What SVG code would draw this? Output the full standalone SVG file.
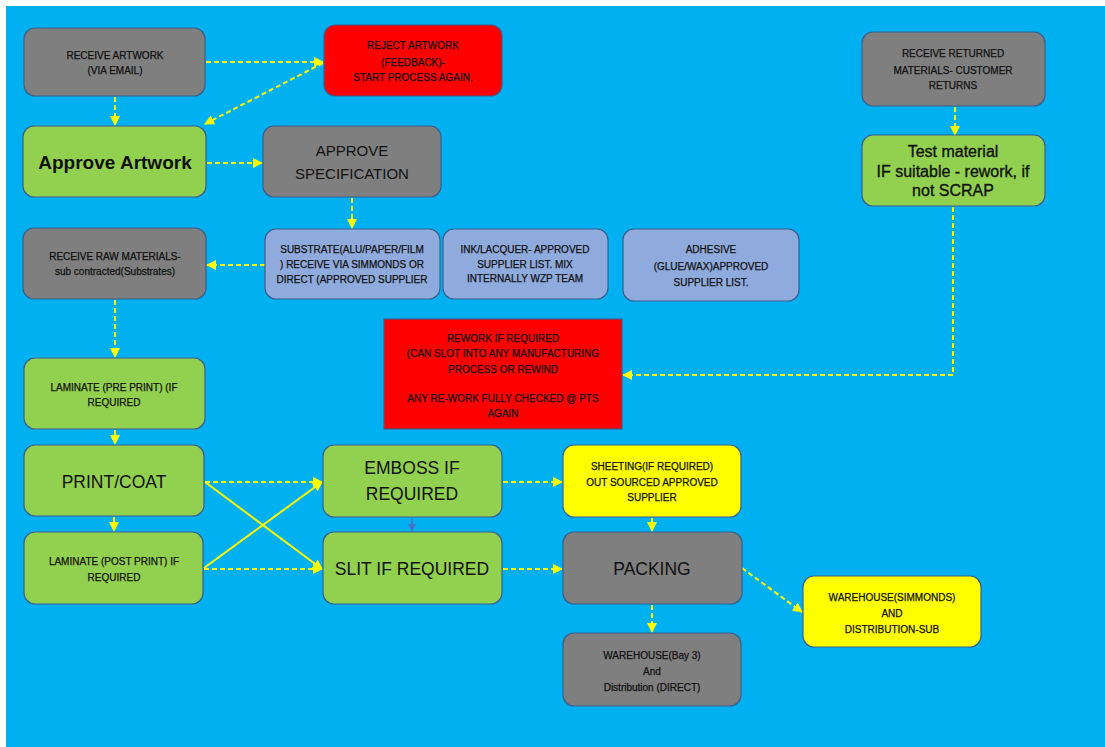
<svg xmlns="http://www.w3.org/2000/svg" width="1105" height="747" viewBox="0 0 1105 747">
<style>
.n{stroke:#3A5F8F;stroke-width:1.2}
.gray{fill:#7F7F7F}.green{fill:#92D050}.red{fill:#FF0000}.yel{fill:#FFFF00}.lb{fill:#8FAADC}
text{font-family:"Liberation Sans",Arial,sans-serif;fill:#111;text-anchor:middle}
.s{font-size:10px;stroke:#111;stroke-width:0.25}
.m{font-size:15px}
.l{font-size:17.5px}
.b{font-size:19px;font-weight:bold}
.t{font-size:16px;stroke:#111;stroke-width:0.35}
.d{fill:none;stroke:#FFFF00;stroke-width:2;stroke-dasharray:5 3}
.sol{fill:none;stroke:#FFFF00;stroke-width:2}
</style>
<defs>
<marker id="ah" viewBox="0 0 10 10" refX="9" refY="5" markerWidth="10" markerHeight="10" markerUnits="userSpaceOnUse" orient="auto">
<path d="M0,0 L10,5 L0,10 z" fill="#FFFF00"/>
</marker>
<marker id="ab" viewBox="0 0 10 10" refX="9" refY="5" markerWidth="8" markerHeight="8" markerUnits="userSpaceOnUse" orient="auto">
<path d="M0,0 L10,5 L0,10 z" fill="#4472C4"/>
</marker>
</defs>
<rect x="0" y="0" width="1105" height="747" fill="#FFFFFF"/>
<rect x="6" y="6" width="1099" height="741" fill="#00B0F0"/>

<g id="connectors">
<path class="d" d="M206,62 L323,62" marker-end="url(#ah)"/>
<path class="d" d="M323,63 L205,124" marker-end="url(#ah)"/>
<path class="d" d="M115,97 L115,125" marker-end="url(#ah)"/>
<path class="d" d="M207,163 L262,163" marker-end="url(#ah)"/>
<path class="d" d="M352,198 L352,228" marker-end="url(#ah)"/>
<path class="d" d="M265,265 L207,265" marker-end="url(#ah)"/>
<path class="d" d="M115,300 L115,357" marker-end="url(#ah)"/>
<path class="d" d="M115,430 L115,444" marker-end="url(#ah)"/>
<path class="d" d="M114,517 L114,531" marker-end="url(#ah)"/>
<path class="d" d="M205,482 L322,482" marker-end="url(#ah)"/>
<path class="sol" d="M205,482 L322,569" marker-end="url(#ah)"/>
<path class="sol" d="M204,568 L322,482" marker-end="url(#ah)"/>
<path class="d" d="M204,569 L322,569" marker-end="url(#ah)"/>
<path d="M412,518 L412,531" fill="none" stroke="#4472C4" stroke-width="1.5" marker-end="url(#ab)"/>
<path class="d" d="M503,482 L562,482" marker-end="url(#ah)"/>
<path class="d" d="M503,569 L562,569" marker-end="url(#ah)"/>
<path class="d" d="M652,518 L652,531" marker-end="url(#ah)"/>
<path class="d" d="M742,568 L802,612" marker-end="url(#ah)"/>
<path class="d" d="M652,605 L652,632" marker-end="url(#ah)"/>
<path class="d" d="M955,107 L955,135" marker-end="url(#ah)"/>
<path class="d" d="M953,207 L953,375 L623,375" marker-end="url(#ah)"/>
</g>

<g id="receive-artwork">
<rect class="n gray" x="24" y="28" width="181" height="68" rx="11"/>
<text class="s" x="115" y="59">RECEIVE ARTWORK</text>
<text class="s" x="115" y="74">(VIA EMAIL)</text>
</g>
<g id="reject-artwork">
<rect class="n red" x="324" y="25" width="178" height="71" rx="11"/>
<text class="s" x="413" y="49">REJECT ARTWORK</text>
<text class="s" x="413" y="65.5">(FEEDBACK)-</text>
<text class="s" x="413" y="81">START PROCESS AGAIN.</text>
</g>
<g id="approve-artwork">
<rect class="n green" x="23" y="126" width="183" height="71" rx="11"/>
<text class="b" x="115" y="169">Approve Artwork</text>
</g>
<g id="approve-specification">
<rect class="n gray" x="263" y="126" width="178" height="71" rx="11"/>
<text class="m" x="352" y="156">APPROVE</text>
<text class="m" x="352" y="179">SPECIFICATION</text>
</g>
<g id="receive-raw">
<rect class="n gray" x="23" y="228" width="183" height="71" rx="11"/>
<text class="s" x="115" y="260">RECEIVE RAW MATERIALS-</text>
<text class="s" x="115" y="275">sub contracted(Substrates)</text>
</g>
<g id="substrate">
<rect class="n lb" x="265" y="229" width="175" height="70" rx="11"/>
<text class="s" x="352" y="253">SUBSTRATE(ALU/PAPER/FILM</text>
<text class="s" x="352" y="268">) RECEIVE VIA SIMMONDS OR</text>
<text class="s" x="352" y="283">DIRECT (APPROVED SUPPLIER</text>
</g>
<g id="ink-lacquer">
<rect class="n lb" x="443" y="229" width="165" height="70" rx="11"/>
<text class="s" x="525" y="253">INK/LACQUER- APPROVED</text>
<text class="s" x="525" y="268">SUPPLIER LIST. MIX</text>
<text class="s" x="525" y="282">INTERNALLY WZP TEAM</text>
</g>
<g id="adhesive">
<rect class="n lb" x="623" y="229" width="176" height="72" rx="11"/>
<text class="s" x="711" y="253">ADHESIVE</text>
<text class="s" x="711" y="270">(GLUE/WAX)APPROVED</text>
<text class="s" x="711" y="286">SUPPLIER LIST.</text>
</g>
<g id="receive-returned">
<rect class="n gray" x="862" y="32" width="183" height="74" rx="11"/>
<text class="s" x="953" y="57">RECEIVE RETURNED</text>
<text class="s" x="953" y="74">MATERIALS- CUSTOMER</text>
<text class="s" x="953" y="89">RETURNS</text>
</g>
<g id="test-material">
<rect class="n green" x="862" y="135" width="183" height="71" rx="11"/>
<text class="t" x="953" y="157">Test material</text>
<text class="t" x="953" y="177">IF suitable - rework, if</text>
<text class="t" x="953" y="196">not SCRAP</text>
</g>
<g id="rework">
<rect class="n red" x="384" y="319" width="238" height="110"/>
<text class="s" x="503" y="342">REWORK IF REQUIRED</text>
<text class="s" x="503" y="357">(CAN SLOT INTO ANY MANUFACTURING</text>
<text class="s" x="503" y="373">PROCESS OR REWIND</text>
<text class="s" x="503" y="402">ANY RE-WORK FULLY CHECKED @ PTS</text>
<text class="s" x="503" y="417">AGAIN</text>
</g>
<g id="laminate-pre">
<rect class="n green" x="24" y="358" width="181" height="71" rx="11"/>
<text class="s" x="114" y="391">LAMINATE (PRE PRINT) (IF</text>
<text class="s" x="114" y="406">REQUIRED</text>
</g>
<g id="print-coat">
<rect class="n green" x="24" y="445" width="180" height="71" rx="11"/>
<text class="l" x="114" y="488">PRINT/COAT</text>
</g>
<g id="laminate-post">
<rect class="n green" x="24" y="532" width="179" height="72" rx="11"/>
<text class="s" x="114" y="565">LAMINATE (POST PRINT) IF</text>
<text class="s" x="114" y="581">REQUIRED</text>
</g>
<g id="emboss">
<rect class="n green" x="323" y="445" width="179" height="72" rx="11"/>
<text class="l" x="412" y="474">EMBOSS IF</text>
<text class="l" x="412" y="500">REQUIRED</text>
</g>
<g id="slit">
<rect class="n green" x="323" y="532" width="179" height="72" rx="11"/>
<text class="l" x="412" y="575">SLIT IF REQUIRED</text>
</g>
<g id="sheeting">
<rect class="n yel" x="563" y="445" width="178" height="72" rx="11"/>
<text class="s" x="652" y="470">SHEETING(IF REQUIRED)</text>
<text class="s" x="652" y="486">OUT SOURCED APPROVED</text>
<text class="s" x="652" y="501">SUPPLIER</text>
</g>
<g id="packing">
<rect class="n gray" x="563" y="532" width="179" height="72" rx="11"/>
<text class="l" x="652" y="575">PACKING</text>
</g>
<g id="warehouse-simmonds">
<rect class="n yel" x="803" y="576" width="178" height="71" rx="11"/>
<text class="s" x="892" y="601">WAREHOUSE(SIMMONDS)</text>
<text class="s" x="892" y="617">AND</text>
<text class="s" x="892" y="633">DISTRIBUTION-SUB</text>
</g>
<g id="warehouse-bay3">
<rect class="n gray" x="563" y="633" width="178" height="73" rx="11"/>
<text class="s" x="652" y="659">WAREHOUSE(Bay 3)</text>
<text class="s" x="652" y="675">And</text>
<text class="s" x="652" y="691">Distribution (DIRECT)</text>
</g>
</svg>
